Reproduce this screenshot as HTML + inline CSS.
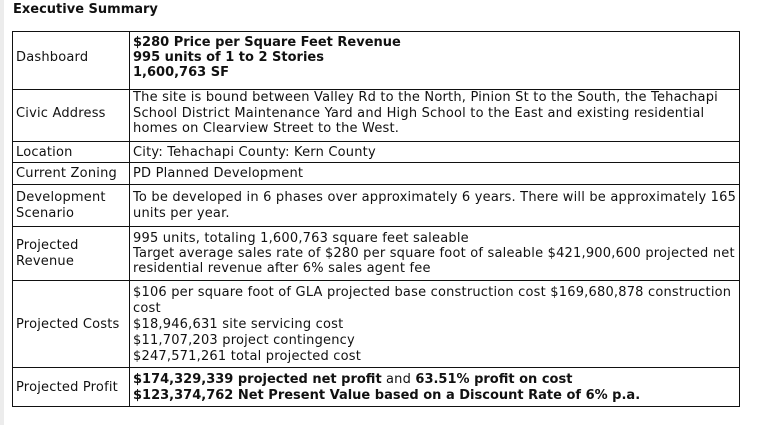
<!DOCTYPE html>
<html><head><meta charset="utf-8"><style>
body{margin:0;width:775px;height:425px;background:#fff;position:relative;overflow:hidden;font-family:Verdana,"DejaVu Sans",sans-serif;font-size:13px;color:#111}
.strip{position:absolute;left:0;top:0;width:4px;height:425px;background:#ececec}
.h{position:absolute;left:12px;width:728px;height:1px;background:#111}
.v{position:absolute;top:31px;height:376px;width:1px;background:#111}
.t{position:absolute;white-space:nowrap;line-height:15px;height:15px;letter-spacing:0.2px}
.b{font-weight:bold;letter-spacing:0}
b{letter-spacing:0}
</style></head><body>
<div class="strip"></div>
<div class="t b" style="left:13px;top:2px">Executive Summary</div>
<div class="h" style="top:31px"></div>
<div class="h" style="top:89px"></div>
<div class="h" style="top:141px"></div>
<div class="h" style="top:162px"></div>
<div class="h" style="top:184px"></div>
<div class="h" style="top:226px"></div>
<div class="h" style="top:280px"></div>
<div class="h" style="top:367px"></div>
<div class="h" style="top:406px"></div>
<div class="v" style="left:12px"></div>
<div class="v" style="left:129px"></div>
<div class="v" style="left:739px"></div>

<div class="t" style="left:16px;top:50px">Dashboard</div>
<div class="t b" style="left:133px;top:35px">$280 Price per Square Feet Revenue</div>
<div class="t b" style="left:133px;top:50px">995 units of 1 to 2 Stories</div>
<div class="t b" style="left:133px;top:65px">1,600,763 SF</div>

<div class="t" style="left:16px;top:106px">Civic Address</div>
<div class="t" style="left:133px;top:90px">The site is bound between Valley Rd to the North, Pinion St to the South, the Tehachapi</div>
<div class="t" style="left:133px;top:106px">School District Maintenance Yard and High School to the East and existing residential</div>
<div class="t" style="left:133px;top:121px">homes on Clearview Street to the West.</div>

<div class="t" style="left:16px;top:145px">Location</div>
<div class="t" style="left:133px;top:145px">City: Tehachapi County: Kern County</div>

<div class="t" style="left:16px;top:166px">Current Zoning</div>
<div class="t" style="left:133px;top:166px">PD Planned Development</div>

<div class="t" style="left:16px;top:190px">Development</div>
<div class="t" style="left:16px;top:206px">Scenario</div>
<div class="t" style="left:133px;top:190px">To be developed in 6 phases over approximately 6 years. There will be approximately 165</div>
<div class="t" style="left:133px;top:206px">units per year.</div>

<div class="t" style="left:16px;top:238px">Projected</div>
<div class="t" style="left:16px;top:254px">Revenue</div>
<div class="t" style="left:133px;top:231px">995 units, totaling 1,600,763 square feet saleable</div>
<div class="t" style="left:133px;top:246px">Target average sales rate of $280 per square foot of saleable $421,900,600 projected net</div>
<div class="t" style="left:133px;top:261px">residential revenue after 6% sales agent fee</div>

<div class="t" style="left:16px;top:317px">Projected Costs</div>
<div class="t" style="left:133px;top:285px">$106 per square foot of GLA projected base construction cost $169,680,878 construction</div>
<div class="t" style="left:133px;top:301px">cost</div>
<div class="t" style="left:133px;top:317px">$18,946,631 site servicing cost</div>
<div class="t" style="left:133px;top:333px">$11,707,203 project contingency</div>
<div class="t" style="left:133px;top:349px">$247,571,261 total projected cost</div>

<div class="t" style="left:16px;top:380px">Projected Profit</div>
<div class="t" style="left:133px;top:372px"><b>$174,329,339 projected net profit</b> and <b>63.51% profit on cost</b></div>
<div class="t b" style="left:133px;top:388px">$123,374,762 Net Present Value based on a Discount Rate of 6% p.a.</div>
</body></html>
